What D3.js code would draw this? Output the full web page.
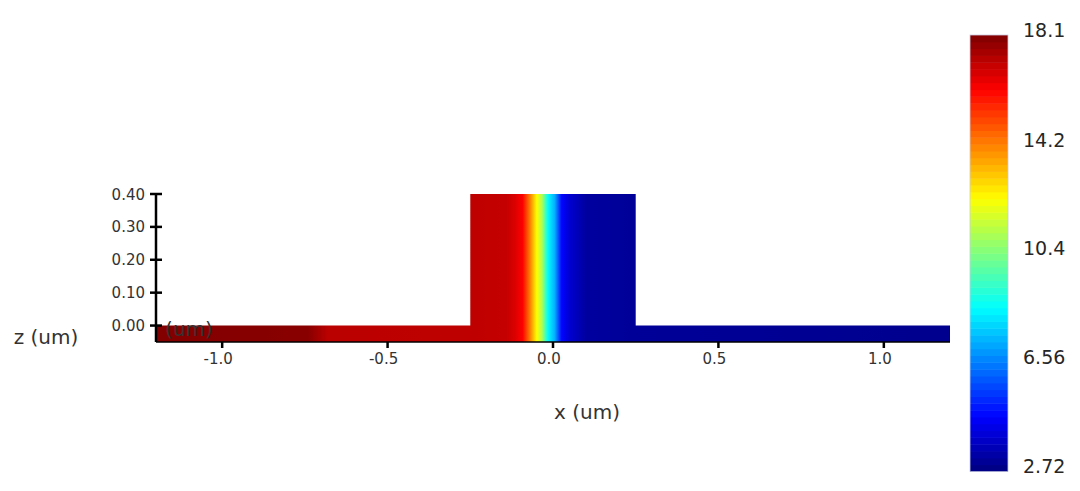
<!DOCTYPE html>
<html><head><meta charset="utf-8">
<script src="https://cdn.jsdelivr.net/npm/d3@7"></script>
<style>
html,body{margin:0;padding:0;background:#fff;}
svg{display:block;font-family:"DejaVu Sans",sans-serif;}
</style></head>
<body>
<svg id="chart" width="1080" height="491"></svg>
<script>
// ---- data ----
const xTicks = [-1.0, -0.5, 0.0, 0.5, 1.0];
const xTickLabels = ["-1.0", "-0.5", "0.0", "0.5", "1.0"];
const zTicks = [0.0, 0.1, 0.2, 0.3, 0.4];
const zTickLabels = ["0.00", "0.10", "0.20", "0.30", "0.40"];
const cbTicks = [2.72, 6.56, 10.4, 14.2, 18.1];
const cbTickLabels = ["2.72", "6.56", "10.4", "14.2", "18.1"];
const cbRange = [2.72, 18.1];
// waveguide outline (um): slab + ridge
const shapeX = [-1.2, -1.2, -0.25, -0.25, 0.25, 0.25, 1.2, 1.2];
const shapeZ = [-0.05, 0.0, 0.0, 0.4, 0.4, 0.0, 0.0, -0.05];
// field profile along x
const fieldX = [-1.2, -0.74, -0.68, -0.25, -0.14, -0.115, -0.092, -0.07, -0.049, -0.034, -0.016, 0.005, 0.026, 0.05, 0.10, 0.25, 1.2];
const fieldV = [18.05, 17.95, 17.2, 17.15, 17.05, 16.7, 16.2, 14.3, 12.3, 11.2, 8.5, 7.3, 4.7, 3.95, 3.2, 3.1, 2.95];
const jetColors = ["#00007f", "#0000ff", "#007fff", "#00ffff", "#7fff7f", "#ffff00", "#ff7f00", "#ff0000", "#7f0000"];
const cbBands = 64;

// ---- drawing ----
const svg = d3.select("#chart");
const x = d3.scaleLinear().domain([-1.2, 1.2]).range([156, 950]);
const z = d3.scaleLinear().domain([-0.05, 0.4]).range([342, 194]);
const jet = d3.piecewise(d3.interpolateRgb, jetColors);
const cnorm = d3.scaleLinear().domain(cbRange).range([0, 1]).clamp(true);
const color = v => jet(cnorm(v));

const defs = svg.append("defs");
const grad = defs.append("linearGradient").attr("id", "field")
  .attr("gradientUnits", "userSpaceOnUse")
  .attr("x1", x(-1.2)).attr("x2", x(1.2)).attr("y1", 0).attr("y2", 0);
const off = d3.scaleLinear().domain([-1.2, 1.2]).range([0, 1]);
fieldX.forEach((fx, i) => {
  grad.append("stop").attr("offset", off(fx)).attr("stop-color", color(fieldV[i]));
});

const pts = shapeX.map((sx, i) => [x(sx), z(shapeZ[i])]);
svg.append("path").attr("d", d3.line()(pts) + "Z").attr("fill", "url(#field)");

// x axis
const gx = svg.append("g").attr("transform", `translate(0,${z(-0.05)})`);
gx.append("line").attr("x1", x(-1.2)).attr("x2", x(1.2)).attr("stroke", "#000").attr("stroke-width", 1.5);
gx.selectAll("line.t").data(xTicks).join("line").attr("class", "t")
  .attr("x1", d => x(d)).attr("x2", d => x(d)).attr("y1", 0).attr("y2", 6)
  .attr("stroke", "#000").attr("stroke-width", 2.5);
gx.selectAll("text").data(xTicks).join("text")
  .attr("x", d => x(d) - 4).attr("y", 22).attr("text-anchor", "middle")
  .attr("font-size", 15).attr("fill", "#333").text((d, i) => xTickLabels[i]);

// z axis
const gz = svg.append("g").attr("transform", `translate(${x(-1.2)},0)`);
gz.append("line").attr("y1", z(0.4)).attr("y2", z(-0.05)).attr("stroke", "#000").attr("stroke-width", 2.5);
gz.selectAll("line.t").data(zTicks).join("line").attr("class", "t")
  .attr("x1", -6).attr("x2", 6).attr("y1", d => z(d)).attr("y2", d => z(d))
  .attr("stroke", "#000").attr("stroke-width", 2.5);
gz.selectAll("text").data(zTicks).join("text")
  .attr("x", -11).attr("y", d => z(d) + 5.5).attr("text-anchor", "end")
  .attr("font-size", 15).attr("fill", "#333").text((d, i) => zTickLabels[i]);

// axis titles
svg.append("text").attr("x", 587).attr("y", 419).attr("text-anchor", "middle")
  .attr("font-size", 20).attr("fill", "#333").text("x (um)");
svg.append("text").attr("x", 46).attr("y", 344).attr("text-anchor", "middle")
  .attr("font-size", 20).attr("fill", "#333").text("z (um)");
svg.append("text").attr("x", 189).attr("y", 336).attr("text-anchor", "middle")
  .attr("font-size", 20).attr("fill", "#333").text("(um)");

// colorbar
const cy = d3.scaleLinear().domain(cbRange).range([471.5, 35]);
const bandVals = d3.range(cbBands);
const bw = (cbRange[1] - cbRange[0]) / cbBands;
svg.append("g").selectAll("rect").data(bandVals).join("rect")
  .attr("x", 970).attr("width", 38)
  .attr("y", d => cy(cbRange[0] + (d + 1) * bw))
  .attr("height", d => cy(cbRange[0] + d * bw) - cy(cbRange[0] + (d + 1) * bw) + 0.5)
  .attr("fill", d => color(cbRange[0] + (d + 0.5) * bw));
svg.append("rect").attr("x", 970).attr("y", cy(cbRange[1])).attr("width", 38)
  .attr("height", cy(cbRange[0]) - cy(cbRange[1])).attr("fill", "none")
  .attr("stroke", "#c8cce0").attr("stroke-width", 0.8);
svg.append("g").selectAll("text").data(cbTicks).join("text")
  .attr("x", 1023).attr("y", d => cy(d) + 1.5)
  .attr("font-size", 19).attr("fill", "#262626").text((d, i) => cbTickLabels[i]);
</script>
</body></html>
